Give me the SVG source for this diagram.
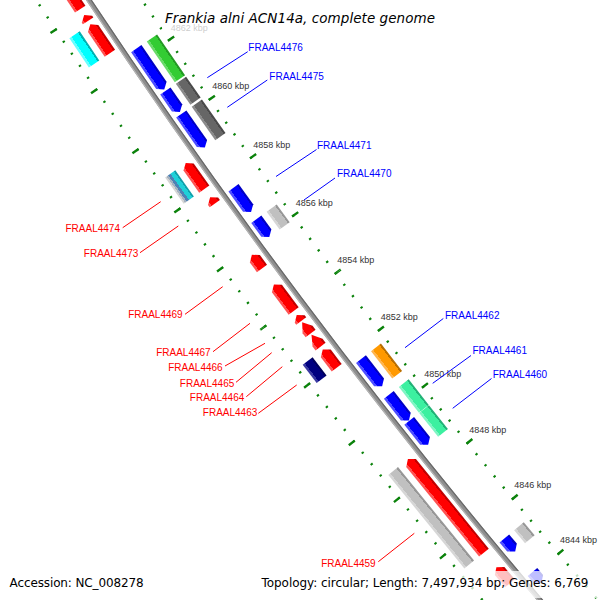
<svg xmlns="http://www.w3.org/2000/svg" width="600" height="600" viewBox="0 0 600 600">
<style>
.lb{font-family:"Liberation Sans",Arial,sans-serif;font-size:10px;fill:#0000ff}
.lr{font-family:"Liberation Sans",Arial,sans-serif;font-size:10px;fill:#ff0000;text-anchor:end}
.tk{font-family:"Liberation Sans",Arial,sans-serif;font-size:9px;fill:#333333}
.cb{stroke:#0000ff;stroke-width:1;fill:none}
.cr{stroke:#ff0000;stroke-width:1;fill:none}
.tick{fill:none;stroke:#0b820b;stroke-linecap:butt}
.info{font-family:"DejaVu Sans","Liberation Sans",sans-serif;font-size:12px;fill:#000000}
.fade{fill:#ffffff;fill-opacity:0.75}
</style>
<defs>
<linearGradient id="gBlue" x1="0" y1="1" x2="0" y2="0"><stop offset="0" stop-color="#4d4dff"/><stop offset="0.2" stop-color="#4d4dff"/><stop offset="0.2" stop-color="#0000ff"/><stop offset="0.84" stop-color="#0000ff"/><stop offset="0.84" stop-color="#0000c4"/><stop offset="1" stop-color="#0000c4"/></linearGradient>
<linearGradient id="gRed" x1="0" y1="1" x2="0" y2="0"><stop offset="0" stop-color="#ff5252"/><stop offset="0.2" stop-color="#ff5252"/><stop offset="0.2" stop-color="#ff0000"/><stop offset="0.84" stop-color="#ff0000"/><stop offset="0.84" stop-color="#c20000"/><stop offset="1" stop-color="#c20000"/></linearGradient>
<linearGradient id="gGreen" x1="0" y1="1" x2="0" y2="0"><stop offset="0" stop-color="#6ada6a"/><stop offset="0.2" stop-color="#6ada6a"/><stop offset="0.2" stop-color="#33cc33"/><stop offset="0.84" stop-color="#33cc33"/><stop offset="0.84" stop-color="#249a24"/><stop offset="1" stop-color="#249a24"/></linearGradient>
<linearGradient id="gDark" x1="0" y1="1" x2="0" y2="0"><stop offset="0" stop-color="#8a8a8a"/><stop offset="0.2" stop-color="#8a8a8a"/><stop offset="0.2" stop-color="#666666"/><stop offset="0.84" stop-color="#666666"/><stop offset="0.84" stop-color="#4a4a4a"/><stop offset="1" stop-color="#4a4a4a"/></linearGradient>
<linearGradient id="gLight" x1="0" y1="1" x2="0" y2="0"><stop offset="0" stop-color="#d6d6d6"/><stop offset="0.2" stop-color="#d6d6d6"/><stop offset="0.2" stop-color="#c0c0c0"/><stop offset="0.84" stop-color="#c0c0c0"/><stop offset="0.84" stop-color="#979797"/><stop offset="1" stop-color="#979797"/></linearGradient>
<linearGradient id="gOrange" x1="0" y1="1" x2="0" y2="0"><stop offset="0" stop-color="#ffb54d"/><stop offset="0.2" stop-color="#ffb54d"/><stop offset="0.2" stop-color="#ff9900"/><stop offset="0.84" stop-color="#ff9900"/><stop offset="0.84" stop-color="#b96f00"/><stop offset="1" stop-color="#b96f00"/></linearGradient>
<linearGradient id="gMint" x1="0" y1="1" x2="0" y2="0"><stop offset="0" stop-color="#7ff5c3"/><stop offset="0.2" stop-color="#7ff5c3"/><stop offset="0.2" stop-color="#3cf0a0"/><stop offset="0.84" stop-color="#3cf0a0"/><stop offset="0.84" stop-color="#22b277"/><stop offset="1" stop-color="#22b277"/></linearGradient>
<linearGradient id="gCyan" x1="0" y1="1" x2="0" y2="0"><stop offset="0" stop-color="#66ffff"/><stop offset="0.2" stop-color="#66ffff"/><stop offset="0.2" stop-color="#00ffff"/><stop offset="0.84" stop-color="#00ffff"/><stop offset="0.84" stop-color="#00b2b2"/><stop offset="1" stop-color="#00b2b2"/></linearGradient>
<linearGradient id="gNavy" x1="0" y1="1" x2="0" y2="0"><stop offset="0" stop-color="#3a3aa2"/><stop offset="0.2" stop-color="#3a3aa2"/><stop offset="0.2" stop-color="#000080"/><stop offset="0.84" stop-color="#000080"/><stop offset="0.84" stop-color="#00005c"/><stop offset="1" stop-color="#00005c"/></linearGradient>
<linearGradient id="gStripe" x1="0" y1="1" x2="0" y2="0"><stop offset="0" stop-color="#d4d4d4"/><stop offset="0.15" stop-color="#d4d4d4"/><stop offset="0.15" stop-color="#a3b1c0"/><stop offset="0.3" stop-color="#a3b1c0"/><stop offset="0.3" stop-color="#4d82b5"/><stop offset="0.52" stop-color="#4d82b5"/><stop offset="0.52" stop-color="#1fd0d8"/><stop offset="0.86" stop-color="#1fd0d8"/><stop offset="0.86" stop-color="#10a0aa"/><stop offset="1" stop-color="#10a0aa"/></linearGradient>
</defs>
<rect width="600" height="600" fill="#ffffff"/>
<g id="map" transform="translate(5430.2,-3546.2) rotate(53.14)">
  <g id="ruler-inside">
    <path class="tick" stroke-width="2.5" stroke-dasharray="2 12.3334" stroke-dashoffset="1" d="M0,6367.25A6367.25,6367.25 0 0 1 -6367.25,0"/>
    <path class="tick" stroke-width="2.5" stroke-dasharray="2 12.3334" stroke-dashoffset="1" d="M0,6367.25A6367.25,6367.25 0 0 0 6367.25,0"/>
    <path class="tick" stroke-width="7.5" stroke-dasharray="2.4 69.24" stroke-dashoffset="1.2" d="M0,6364.75A6364.75,6364.75 0 0 1 -6364.75,0"/>
    <path class="tick" stroke-width="7.5" stroke-dasharray="2.4 69.24" stroke-dashoffset="1.2" d="M0,6364.75A6364.75,6364.75 0 0 0 6364.75,0"/>
  </g>
  <g id="ruler-outside">
    <path class="tick" stroke-width="2.5" stroke-dasharray="2 12.5318" stroke-dashoffset="1" d="M0,6455.35A6455.35,6455.35 0 0 1 -6455.35,0"/>
    <path class="tick" stroke-width="2.5" stroke-dasharray="2 12.5318" stroke-dashoffset="1" d="M0,6455.35A6455.35,6455.35 0 0 0 6455.35,0"/>
    <path class="tick" stroke-width="7.5" stroke-dasharray="2.4 70.287" stroke-dashoffset="1.2" d="M0,6457.85A6457.85,6457.85 0 0 1 -6457.85,0"/>
    <path class="tick" stroke-width="7.5" stroke-dasharray="2.4 70.287" stroke-dashoffset="1.2" d="M0,6457.85A6457.85,6457.85 0 0 0 6457.85,0"/>
  </g>
  <g id="backbone" fill="none">
    <circle r="6411.3" stroke="#8e8e8e" stroke-width="5"/>
    <circle r="6413.2" stroke="#b6b6b6" stroke-width="1.2"/>
    <circle r="6409.4" stroke="#686868" stroke-width="1.2"/>
  </g>
  <g id="f-A" transform="rotate(2.4598) translate(0,6411.3)"><polygon fill="url(#gBlue)" points="-24.75,-18.5 19.75,-18.5 24.75,-12.25 19.75,-6 -24.75,-6"/></g>
  <g id="f-B" transform="rotate(2.1068) translate(0,6411.3)"><polygon fill="url(#gBlue)" points="-12.75,-18.5 7.75,-18.5 12.75,-12.25 7.75,-6 -12.75,-6"/></g>
  <g id="f-C" transform="rotate(1.7873) translate(0,6411.3)"><polygon fill="url(#gBlue)" points="-20.5,-18.5 15.5,-18.5 20.5,-12.25 15.5,-6 -20.5,-6"/></g>
  <g id="f-D" transform="rotate(1.0277) translate(0,6411.3)"><polygon fill="url(#gBlue)" points="-15,-18.5 10,-18.5 15,-12.25 10,-6 -15,-6"/></g>
  <g id="f-E" transform="rotate(0.7149) translate(0,6411.3)"><polygon fill="url(#gBlue)" points="-11,-18.5 6,-18.5 11,-12.25 6,-6 -11,-6"/></g>
  <g id="f-F" transform="rotate(-0.9048) translate(0,6411.3)"><polygon fill="url(#gBlue)" points="-17.25,-18.5 12.25,-18.5 17.25,-12.25 12.25,-6 -17.25,-6"/></g>
  <g id="f-G" transform="rotate(-1.3025) translate(0,6411.3)"><polygon fill="url(#gBlue)" points="-16.25,-18.5 11.25,-18.5 16.25,-12.25 11.25,-6 -16.25,-6"/></g>
  <g id="f-H" transform="rotate(-1.5885) translate(0,6411.3)"><polygon fill="url(#gBlue)" points="-15.25,-18.5 10.25,-18.5 15.25,-12.25 10.25,-6 -15.25,-6"/></g>
  <g id="f-I" transform="rotate(-2.8821) translate(0,6411.3)"><polygon fill="url(#gBlue)" points="-8.5,-18.5 3.5,-18.5 8.5,-12.25 3.5,-6 -8.5,-6"/></g>
  <g id="f-J" transform="rotate(-3.2619) translate(0,6411.3)"><polygon fill="url(#gBlue)" points="-7,-18.5 2,-18.5 7,-12.25 2,-6 -7,-6"/></g>
  <g id="c-K" transform="rotate(2.4598) translate(0,6411.3)"><rect fill="url(#gGreen)" x="-24.75" y="-37.5" width="49.5" height="12.5"/></g>
  <g id="c-L" transform="rotate(2.1068) translate(0,6411.3)"><rect fill="url(#gDark)" x="-12.75" y="-37.5" width="25.5" height="12.5"/></g>
  <g id="c-M" transform="rotate(1.7873) translate(0,6411.3)"><rect fill="url(#gDark)" x="-20.5" y="-37.5" width="41" height="12.5"/></g>
  <g id="c-N" transform="rotate(0.7149) translate(0,6411.3)"><rect fill="url(#gLight)" x="-11" y="-37.5" width="22" height="12.5"/></g>
  <g id="c-O" transform="rotate(-0.9048) translate(0,6411.3)"><rect fill="url(#gOrange)" x="-17.25" y="-37.5" width="34.5" height="12.5"/></g>
  <g id="c-P1" transform="rotate(-1.3025) translate(0,6411.3)"><rect fill="url(#gMint)" x="-16.25" y="-37.5" width="32.5" height="12.5"/></g>
  <g id="c-P2" transform="rotate(-1.5885) translate(0,6411.3)"><rect fill="url(#gMint)" x="-15.25" y="-37.5" width="30.5" height="12.5"/></g>
  <g id="c-Q" transform="rotate(-2.8821) translate(0,6411.3)"><rect fill="url(#gLight)" x="-8.5" y="-37.5" width="17" height="12.5"/></g>
  <g id="r-1" transform="rotate(3.5568) translate(0,6411.3)"><polygon fill="url(#gRed)" points="34,6 -29,6 -34,12.25 -29,18.5 34,18.5"/></g>
  <g id="r-2" transform="rotate(3.1591) translate(0,6411.3)"><polygon fill="url(#gRed)" points="3.5,6 1.5,6 -3.5,12.25 1.5,18.5 3.5,18.5"/></g>
  <g id="r-3" transform="rotate(2.9357) translate(0,6411.3)"><polygon fill="url(#gRed)" points="17.5,6 -12.5,6 -17.5,12.25 -12.5,18.5 17.5,18.5"/></g>
  <g id="r-4" transform="rotate(1.4477) translate(0,6411.3)"><polygon fill="url(#gRed)" points="16,6 -11,6 -16,12.25 -11,18.5 16,18.5"/></g>
  <g id="r-5" transform="rotate(1.1796) translate(0,6411.3)"><polygon fill="url(#gRed)" points="4,6 1,6 -4,12.25 1,18.5 4,18.5"/></g>
  <g id="r-6" transform="rotate(0.5049) translate(0,6411.3)"><polygon fill="url(#gRed)" points="8.5,6 -3.5,6 -8.5,12.25 -3.5,18.5 8.5,18.5"/></g>
  <g id="r-7" transform="rotate(0.1028) translate(0,6411.3)"><polygon fill="url(#gRed)" points="16.5,6 -11.5,6 -16.5,12.25 -11.5,18.5 16.5,18.5"/></g>
  <g id="r-8" transform="rotate(-0.1229) translate(0,6411.3)"><polygon fill="url(#gRed)" points="3.75,6 1.25,6 -3.75,12.25 1.25,18.5 3.75,18.5"/></g>
  <g id="r-9" transform="rotate(-0.2324) translate(0,6411.3)"><polygon fill="url(#gRed)" points="7,6 2,6 -7,12.25 2,18.5 7,18.5"/></g>
  <g id="r-10" transform="rotate(-0.3753) translate(0,6411.3)"><polygon fill="url(#gRed)" points="7.5,6 2.5,6 -7.5,12.25 2.5,18.5 7.5,18.5"/></g>
  <g id="r-11" transform="rotate(-0.5764) translate(0,6411.3)"><polygon fill="url(#gRed)" points="11.5,6 -6.5,6 -11.5,12.25 -6.5,18.5 11.5,18.5"/></g>
  <g id="r-12" transform="rotate(-2.2498) translate(0,6411.3)"><polygon fill="url(#gRed)" points="60.25,6 -55.25,6 -60.25,12.25 -55.25,18.5 60.25,18.5"/></g>
  <g id="r-13" transform="rotate(-3.0519) translate(0,6411.3)"><polygon fill="url(#gRed)" points="10.5,6 -5.5,6 -10.5,12.25 -5.5,18.5 10.5,18.5"/></g>
  <g id="s-1" transform="rotate(2.9357) translate(0,6411.3)"><rect fill="url(#gCyan)" x="-17.5" y="25" width="35" height="12.5"/></g>
  <g id="s-2" transform="rotate(1.4477) translate(0,6411.3)"><rect fill="url(#gStripe)" x="-16" y="25" width="32" height="12.5"/></g>
  <g id="s-3" transform="rotate(-0.5764) translate(0,6411.3)"><rect fill="url(#gNavy)" x="-11.5" y="25" width="23" height="12.5"/></g>
  <g id="s-4" transform="rotate(-2.2498) translate(0,6411.3)"><rect fill="url(#gLight)" x="-60.25" y="25" width="120.5" height="12.5"/></g>
</g>
<g id="tick-labels">
  <text class="tk" x="170.7" y="30.5">4862 kbp</text>
  <text class="tk" x="212.3" y="89.3">4860 kbp</text>
  <text class="tk" x="253.3" y="148.3">4858 kbp</text>
  <text class="tk" x="295.7" y="206">4856 kbp</text>
  <text class="tk" x="337.3" y="263.3">4854 kbp</text>
  <text class="tk" x="380.7" y="320">4852 kbp</text>
  <text class="tk" x="424.3" y="377">4850 kbp</text>
  <text class="tk" x="469.3" y="433.3">4848 kbp</text>
  <text class="tk" x="514.3" y="488.3">4846 kbp</text>
  <text class="tk" x="560" y="542.7">4844 kbp</text>
</g>
<g id="connectors">
  <line class="cb" x1="207.3" y1="77.7" x2="247.7" y2="51.7"/>
  <line class="cb" x1="227.3" y1="107.3" x2="267.3" y2="80"/>
  <line class="cb" x1="276" y1="176.5" x2="316.5" y2="149.5"/>
  <line class="cb" x1="304" y1="200" x2="335" y2="178"/>
  <line class="cb" x1="405" y1="347.7" x2="443.3" y2="318.5"/>
  <line class="cb" x1="432.7" y1="383.3" x2="471" y2="355.5"/>
  <line class="cb" x1="452.7" y1="408.3" x2="491.5" y2="378.5"/>
  <line class="cr" x1="122.7" y1="227.7" x2="160.7" y2="201.7"/>
  <line class="cr" x1="140" y1="252.7" x2="178.3" y2="226"/>
  <line class="cr" x1="185" y1="314.3" x2="222.7" y2="286.7"/>
  <line class="cr" x1="213" y1="351.7" x2="250" y2="323.3"/>
  <line class="cr" x1="225" y1="366" x2="265" y2="343.3"/>
  <line class="cr" x1="236" y1="382.3" x2="271.7" y2="352.7"/>
  <line class="cr" x1="246.3" y1="396.7" x2="282.3" y2="366.7"/>
  <line class="cr" x1="258.3" y1="413.3" x2="296.7" y2="385"/>
  <line class="cr" x1="378.3" y1="561.7" x2="414.3" y2="533.3"/>
</g>
<g id="labels">
  <text class="lb" x="248.3" y="50.8">FRAAL4476</text>
  <text class="lb" x="269.3" y="80">FRAAL4475</text>
  <text class="lb" x="317" y="148.5">FRAAL4471</text>
  <text class="lb" x="337" y="177.3">FRAAL4470</text>
  <text class="lb" x="445" y="319.2">FRAAL4462</text>
  <text class="lb" x="472.5" y="353.5">FRAAL4461</text>
  <text class="lb" x="492.7" y="378.4">FRAAL4460</text>
  <text class="lr" x="120" y="231.5">FRAAL4474</text>
  <text class="lr" x="138.3" y="256.7">FRAAL4473</text>
  <text class="lr" x="182.7" y="317.8">FRAAL4469</text>
  <text class="lr" x="210.7" y="356.3">FRAAL4467</text>
  <text class="lr" x="222.7" y="371.3">FRAAL4466</text>
  <text class="lr" x="234.3" y="386.8">FRAAL4465</text>
  <text class="lr" x="244.3" y="400.8">FRAAL4464</text>
  <text class="lr" x="257.3" y="416">FRAAL4463</text>
  <text class="lr" x="375.7" y="566.5">FRAAL4459</text>
</g>
<rect class="fade" x="162" y="3" width="276" height="30"/>
<text x="165" y="22.7" font-family="'DejaVu Sans','Liberation Sans',sans-serif" font-style="italic" font-size="13.5" fill="#000000" textLength="270">Frankia alni ACN14a, complete genome</text>
<rect class="fade" x="257" y="571" width="340" height="27"/>
<text class="info" x="9.6" y="586.5" textLength="134">Accession: NC_008278</text>
<text class="info" x="261.5" y="586.5" textLength="327">Topology: circular; Length: 7,497,934 bp; Genes: 6,769</text>
</svg>
